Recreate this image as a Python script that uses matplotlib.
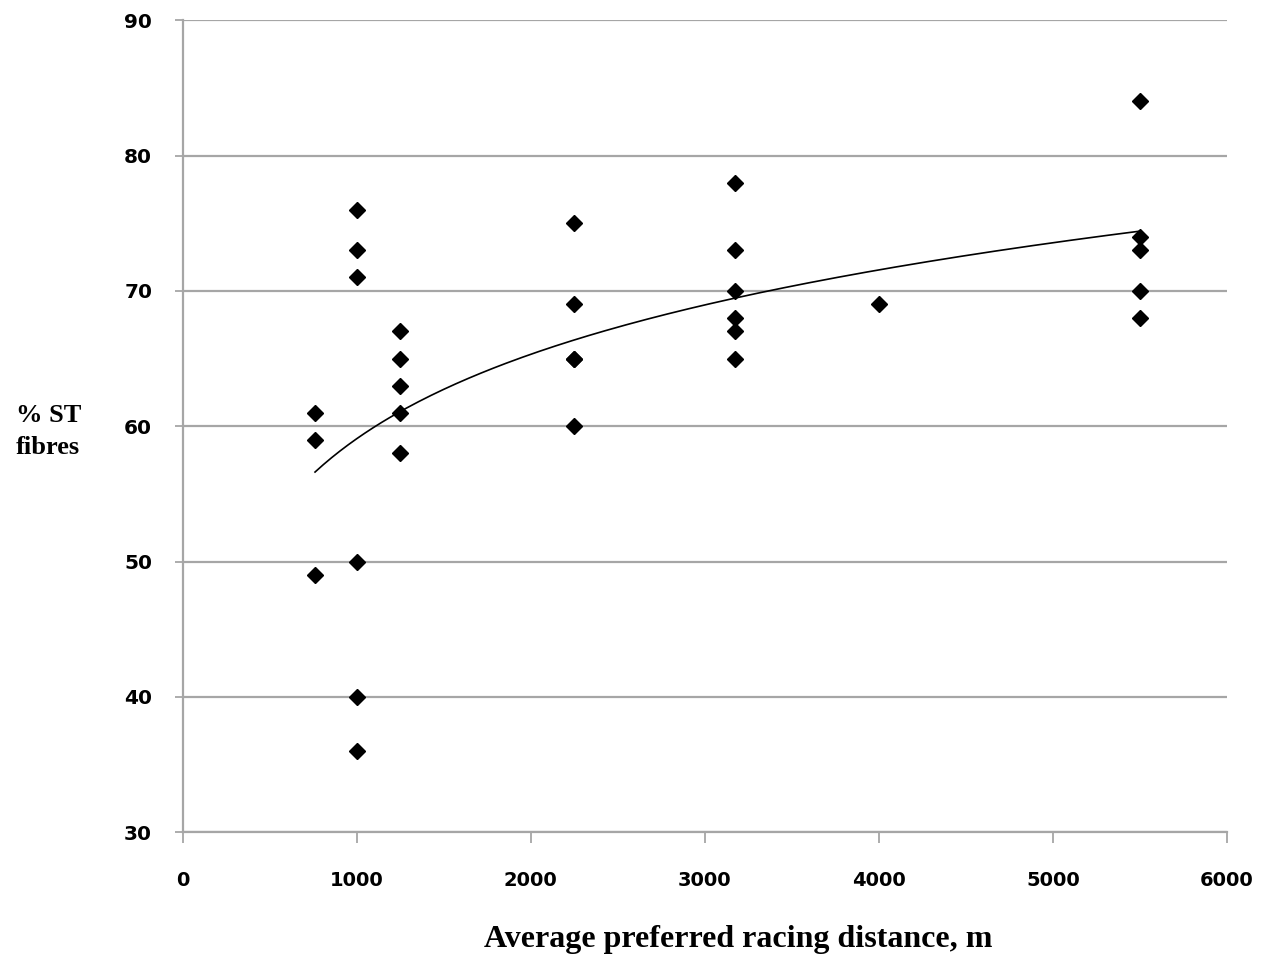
import matplotlib.pyplot as plt
import numpy as np

# distance (m) and % slow-twitch fibres
dist = [760, 760, 760,
        1000, 1000, 1000, 1000, 1000, 1000,
        1250, 1250, 1250, 1250, 1250,
        2250, 2250, 2250, 2250, 2250,
        3170, 3170, 3170, 3170, 3170, 3170,
        4000,
        5500, 5500, 5500, 5500, 5500]
st = [61, 59, 49,
      76, 73, 71, 50, 40, 36,
      67, 65, 63, 61, 58,
      75, 69, 65, 65, 60,
      78, 73, 70, 68, 67, 65,
      69,
      84, 74, 73, 70, 68]

xticks = [0, 1000, 2000, 3000, 4000, 5000, 6000]
yticks = [30, 40, 50, 60, 70, 80, 90]

# logarithmic trend line, like Excel's
a, b = np.polyfit(np.log(dist), st, 1)
xt = np.linspace(min(dist), max(dist), 200)
yt = a * np.log(xt) + b

fig = plt.figure(figsize=(12.69, 9.61), dpi=100)
ax = fig.add_axes([0.144, 0.134, 0.823, 0.845])

ax.grid(axis="y", color="#a6a6a6", linewidth=1.6)
ax.set_axisbelow(True)
ax.plot(xt, yt, color="black", linewidth=1.2)
ax.plot(dist, st, "D", color="black", markersize=8.5, linestyle="none")

ax.set_xlim(0, 6000)
ax.set_ylim(30, 90)
ax.set_xticks(xticks)
ax.set_yticks(yticks)
ax.set_xticklabels([str(t) for t in xticks], family="DejaVu Sans",
                   fontweight="bold", fontsize=14)
ax.set_yticklabels([str(t) for t in yticks], family="DejaVu Sans",
                   fontweight="bold", fontsize=14.5)

for s in ["top", "right"]:
    ax.spines[s].set_visible(False)
for s in ["left", "bottom"]:
    ax.spines[s].set_color("#a6a6a6")
    ax.spines[s].set_linewidth(1.6)
ax.tick_params(axis="x", direction="out", length=8, width=1.3, color="#a6a6a6", pad=20)
ax.tick_params(axis="y", direction="out", length=6, width=1.3, color="#a6a6a6", pad=16)

fig.text(0.582, 0.022, "Average preferred racing distance, m", family="Liberation Serif",
         fontweight="bold", fontsize=23, ha="center", va="center")
fig.text(0.038, 0.551, "% ST\nfibres", family="Liberation Serif", fontweight="bold",
         fontsize=19, ha="center", va="center", linespacing=1.55)

fig.savefig("out.png", dpi=100)
